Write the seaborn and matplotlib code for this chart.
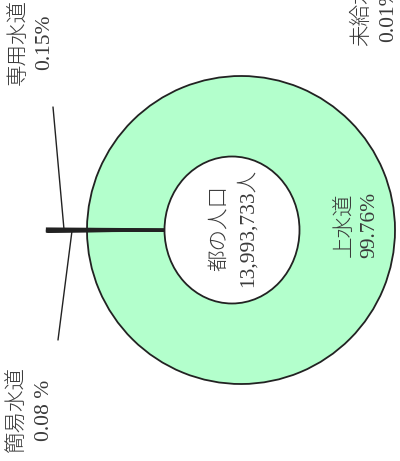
import numpy as np
import matplotlib
matplotlib.use("Agg")
import matplotlib.pyplot as plt
from matplotlib.patches import Ellipse
import seaborn as sns

# ─────────────────────────────────────────────
# Data — 都の人口と給水の内訳 (%)
# ─────────────────────────────────────────────
CATEGORIES = ["上水道", "専用水道", "簡易水道", "未給水"]
SHARES = [99.76, 0.15, 0.08, 0.01]
SHARE_LABELS = ["99.76%", "0.15%", "0.08 %", "0.01%"]
POPULATION_LABEL = "都の人口\n13,993,733人"

GREEN = "#b3ffcc"
INK = "#222222"
TEXT = "#3a3a3a"
FONT = ["Liberation Serif", "Noto Sans CJK JP", "DejaVu Sans"]
FS = 15.5

sns.set_style("white")
plt.rcParams["font.family"] = FONT

fig = plt.figure(figsize=(4.0, 4.61), dpi=100)
ax = fig.add_axes([0, 0, 1, 1])

# ring centre / sizes in pixel units of the figure
CX, CY = 241, 231
R_OUTER = 154
R_SPIKE = 194

small_total = sum(SHARES[1:])
start = 180 + small_total * 3.6 / 2

wedges, _ = ax.pie(SHARES, radius=R_SPIKE, center=(CX, CY), startangle=start,
                   colors=[GREEN, INK, INK, INK], frame=True,
                   wedgeprops=dict(edgecolor=INK, linewidth=1.3))
wedges[0].set_radius(R_OUTER)
for w in wedges[1:]:
    w.set_linewidth(1.6)

# centre hole (slightly oval in the original)
ax.add_patch(Ellipse((232, 231), 135, 147, facecolor="white",
                     edgecolor=INK, linewidth=1.3, zorder=5))

text_kw = dict(rotation=90, ha="center", va="center", multialignment="center",
               fontsize=FS, color=TEXT, linespacing=1.45, fontweight="light")

ax.text(234, 233, POPULATION_LABEL, zorder=6, **text_kw)

# main slice label
ax.text(357, 236, f"{CATEGORIES[0]}\n{SHARE_LABELS[0]}", **text_kw)

# small slices: label position, leader end, anchor radius on the spike
label_pos = {1: (31, 419), 2: (31, 51), 3: (375, 447)}
leader_end = {1: (53, 354), 2: (58, 121)}
anchor_r = {1: 177, 2: 169}

for i in (1, 2, 3):
    ax.text(*label_pos[i], f"{CATEGORIES[i]}\n{SHARE_LABELS[i]}", **text_kw)
    if i in leader_end:
        ang = np.deg2rad((wedges[i].theta1 + wedges[i].theta2) / 2)
        ax_x = CX + anchor_r[i] * np.cos(ang)
        ax_y = CY + anchor_r[i] * np.sin(ang)
        ax.plot([ax_x, leader_end[i][0]], [ax_y, leader_end[i][1]],
                color=INK, linewidth=1.0)

ax.set_xlim(0, 400)
ax.set_ylim(0, 461)
ax.set_aspect("equal")
ax.axis("off")

plt.savefig("out.png", dpi=100)
plt.close()
